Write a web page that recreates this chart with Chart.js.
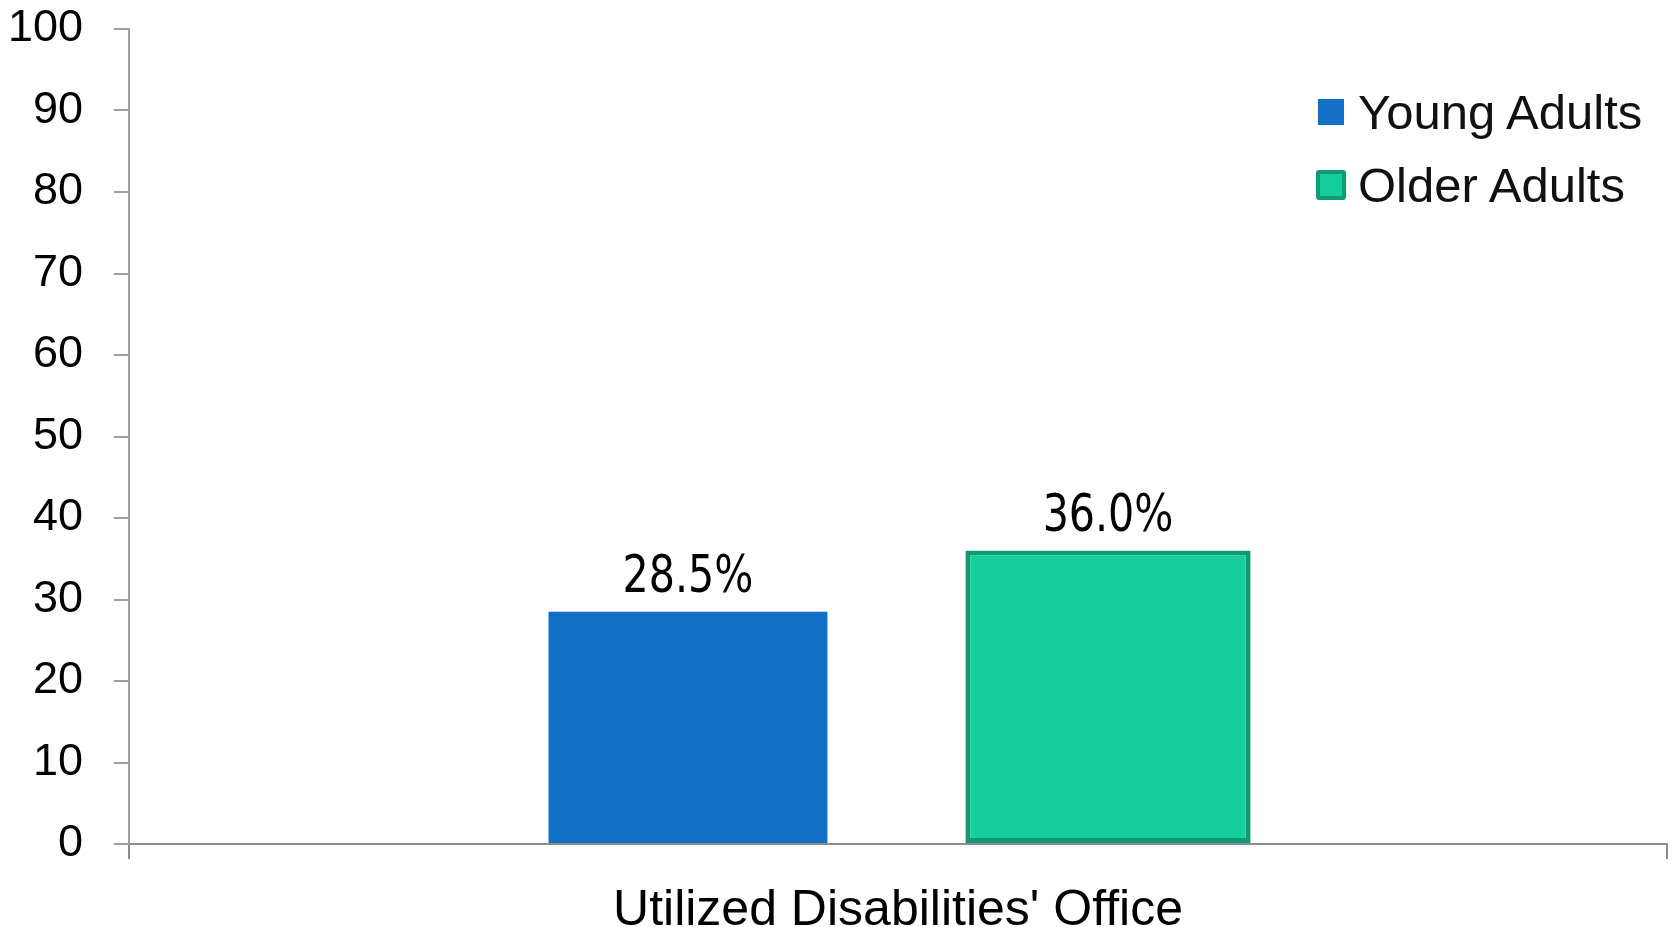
<!DOCTYPE html>
<html>
<head>
<meta charset="utf-8">
<title>Utilized Disabilities' Office</title>
<script src="https://cdn.jsdelivr.net/npm/chart.js@4.4.1/dist/chart.umd.min.js"></script>
<style>
    html, body {
        margin: 0;
        padding: 0;
        background: #ffffff;
        overflow: hidden;
    }

    #wrap {
        position: relative;
        width: 1679px;
        height: 927px;
    }

    #legend {
        position: absolute;
        left: 1316px;
        top: 0;
        font-family: 'Liberation Sans', Arial, sans-serif;
        font-size: 49px;
        color: #111111;
    }

    #legend .item {
        position: absolute;
        left: 0;
        height: 73px;
        display: flex;
        align-items: center;
        white-space: nowrap;
    }

    #legend .swatch {
        width: 30px;
        height: 30px;
        margin-right: 12px;
        display: flex;
        align-items: center;
        justify-content: center;
    }

    #legend .swatch span {
        display: block;
        box-sizing: border-box;
    }
</style>
</head>
<body>
<div id="wrap">
    <canvas id="chart"></canvas>
    <div id="legend"></div>
</div>

<script>
    // values
    const categories = ["Utilized Disabilities' Office"];
    const seriesNames = ['Young Adults', 'Older Adults'];
    const youngAdults = [28.5];
    const olderAdults = [36.0];

    // y axis range and step
    const yMin = 0;
    const yMax = 100;
    const yStep = 10;

    const blue = '#1170c6';
    const green = '#14cf9b';
    const greenEdge = '#0f9a72';

    const fontFamily = "'Liberation Sans', Arial, sans-serif";

    /**
     * Writes the value above every bar, squeezed a little sideways.
     */
    const valueLabels = {
        id: 'valueLabels',
        afterDatasetsDraw(chart) {
            let ctx = chart.ctx;

            chart.data.datasets.forEach((dataset, i) => {
                chart.getDatasetMeta(i).data.forEach((bar, j) => {
                    ctx.save();
                    ctx.font = "52px 'Liberation Sans Narrow', 'DejaVu Sans Condensed', sans-serif";
                    ctx.fillStyle = '#000000';
                    ctx.textAlign = 'center';
                    ctx.textBaseline = 'alphabetic';
                    ctx.translate(bar.x, bar.y - 20);
                    ctx.scale(0.88, 1);
                    ctx.fillText(dataset.data[j].toFixed(1) + '%', 0, 0);
                    ctx.restore();
                });
            });
        }
    };

    let chart = new Chart(document.getElementById('chart'), {
        type: 'bar',
        data: {
            labels: categories,
            datasets: [
                {
                    label: seriesNames[0],
                    data: youngAdults,
                    backgroundColor: blue,
                    borderWidth: 0,
                    categoryPercentage: 0.5462,
                    barPercentage: 0.664
                },
                {
                    label: seriesNames[1],
                    data: olderAdults,
                    backgroundColor: green,
                    borderColor: greenEdge,
                    borderWidth: 5,
                    borderSkipped: false,
                    categoryPercentage: 0.5462,
                    barPercentage: 0.679
                }
            ]
        },
        options: {
            responsive: true,
            maintainAspectRatio: false,
            animation: false,
            devicePixelRatio: 1,
            layout: {
                padding: { top: 29, right: 12, bottom: 0, left: 0 }
            },
            plugins: {
                legend: { display: false },
                tooltip: { enabled: false }
            },
            scales: {
                x: {
                    afterFit: scale => { scale.height = 83; },
                    border: { color: '#8c8c8c', width: 2 },
                    grid: {
                        offset: true,
                        drawOnChartArea: false,
                        drawTicks: true,
                        tickLength: 15,
                        color: '#8c8c8c',
                        lineWidth: 2
                    },
                    ticks: {
                        color: '#000000',
                        padding: 22,
                        font: { family: fontFamily, size: 50, lineHeight: 1.2 }
                    }
                },
                y: {
                    min: yMin,
                    max: yMax,
                    // the wide label gap should not push the plot down
                    afterFit: scale => {
                        scale.width = 129;
                        scale.paddingTop = 0;
                    },
                    border: { color: '#a0a0a0', width: 2 },
                    grid: {
                        drawOnChartArea: false,
                        drawTicks: true,
                        tickLength: 15,
                        color: '#a0a0a0',
                        lineWidth: 2
                    },
                    ticks: {
                        stepSize: yStep,
                        color: '#000000',
                        padding: 31,
                        font: { family: fontFamily, size: 45, lineHeight: 1.2 }
                    }
                }
            }
        },
        plugins: [valueLabels]
    });

    // legend sits inside the plot, top right
    let legend = document.getElementById('legend');
    let legendCenters = [112, 185];

    chart.data.datasets.forEach((dataset, i) => {
        let item = document.createElement('div');
        item.className = 'item';
        item.style.top = (legendCenters[i] - 36.5) + 'px';

        let swatch = document.createElement('div');
        swatch.className = 'swatch';
        let mark = document.createElement('span');
        mark.style.background = dataset.backgroundColor;

        if (dataset.borderWidth) {
            mark.style.width = '30px';
            mark.style.height = '30px';
            mark.style.border = '4px solid ' + dataset.borderColor;
            mark.style.borderRadius = '3px';
        } else {
            mark.style.width = '26px';
            mark.style.height = '26px';
        }

        swatch.appendChild(mark);
        item.appendChild(swatch);
        item.appendChild(document.createTextNode(dataset.label));
        legend.appendChild(item);
    });
</script>
</body>
</html>
